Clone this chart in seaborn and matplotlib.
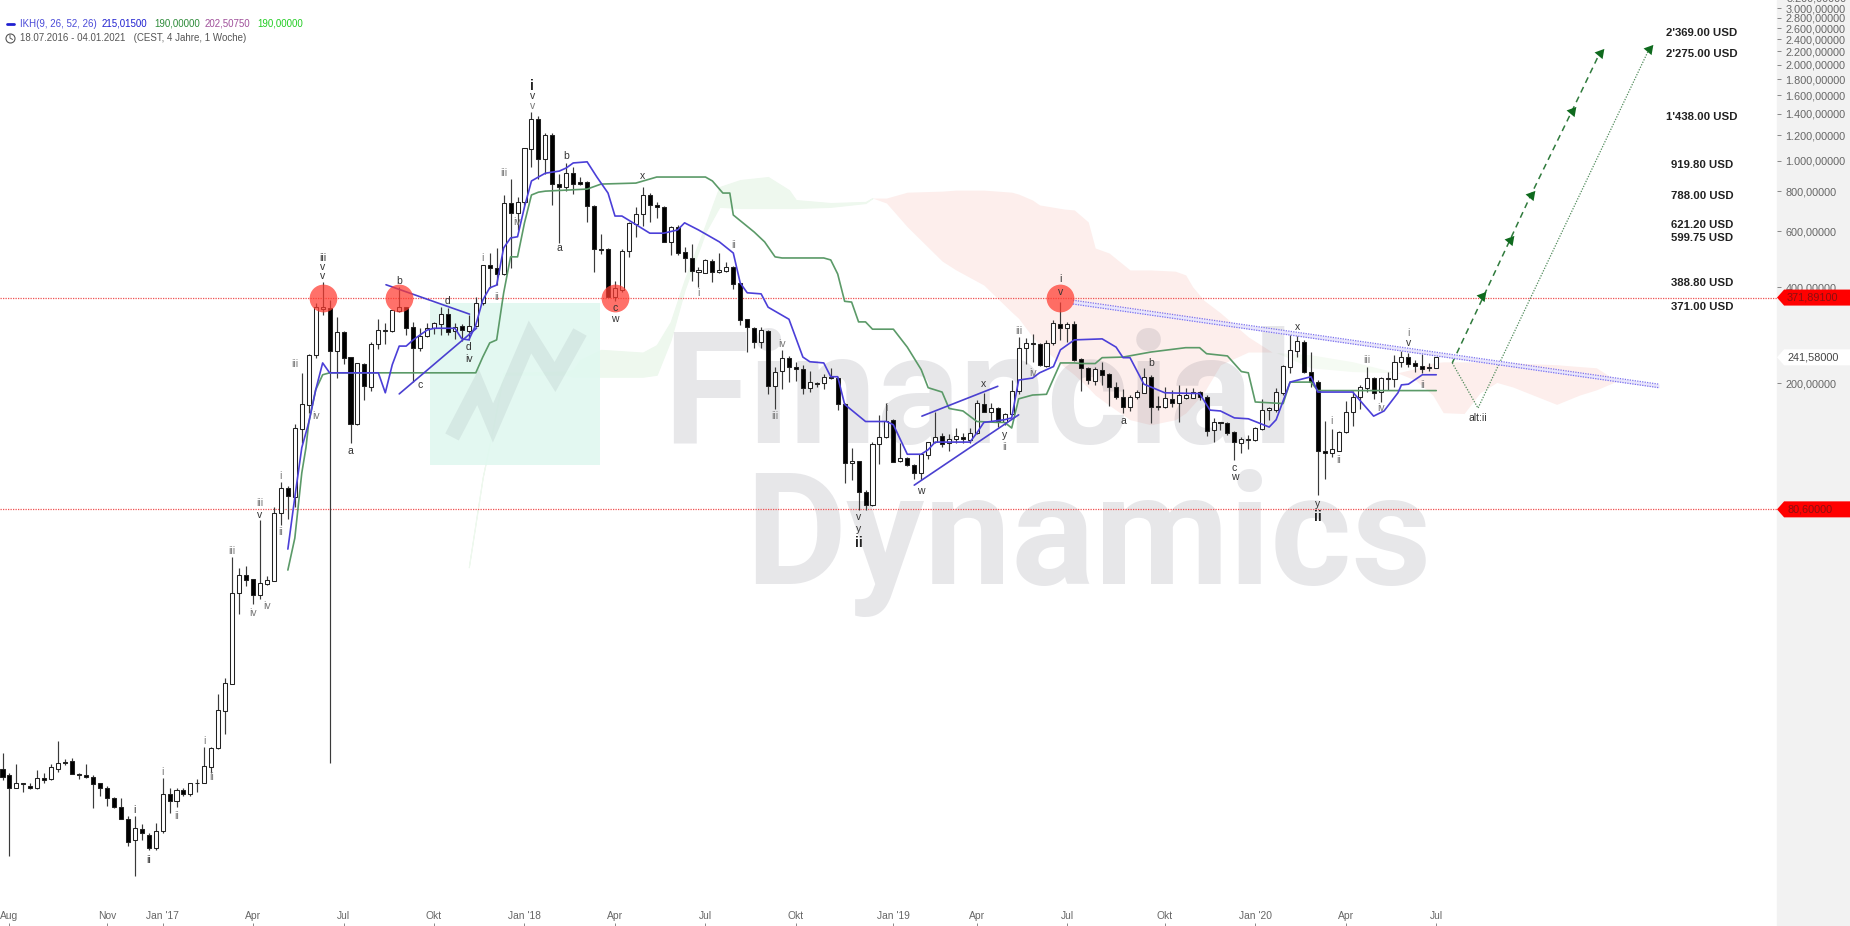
import matplotlib
matplotlib.use("Agg")
import matplotlib.pyplot as plt
import numpy as np
import pandas as pd
import seaborn as sns
from matplotlib.patches import Polygon, Rectangle

# weekly candles, prices in USD
opens = [12.4,11.8,10.8,11.2,10.9,10.8,11.6,11.5,12.4,13.0,
         13.1,11.9,11.8,11.7,11.2,10.8,10.0,9.4,8.6,7.4,
         8.0,7.7,7.0,7.9,10.3,9.8,10.6,10.3,11.2,11.2,
         12.5,14.4,18.8,22.8,44.0,50.2,48.7,43.4,47.0,48,
         78.5,94,88,144,171,246,342.5,345,253,290,
         242,149.6,230.6,195,266,292,292,337.6,347.5,300.6,
         258.6,282,298.4,307,330,292,303,292,303,357.5,
         471,461,441,736,685,742,1087,1351,1011,1203,
         844,826,913,856,856,720,528,528,373,393,
         520,633,680,780,726,716,556,620,517,495,
         448,444,484,448,451,464,413,318,298,270,
         292,196.6,219.4,240.6,226,222.6,194,201,201,210,
         208,172,112.6,114.2,91.4,83.2,129,136,154,114.2,
         116.8,111,104.8,119.5,131.2,137,130.2,134,136,133,
         140,172,162.8,167.4,151.8,160.6,189.6,258.6,268,266,
         227.6,268,307,298.4,307,238.8,224.2,203.6,221,214.6,
         195,182,168.6,181,186.8,210,169.8,168.6,178.4,173.4,
         179.8,179.8,188,182,143,151.8,150.7,141,130.2,133,
         133,144,165,165,186.8,226,253,270,217.8,202,
         122.4,121.3,123,141,162.8,181,194,208,188,208,
         206.4,233.8,242,232,227.6,226,224.2]
closes = [11.7,10.8,11.2,11.1,10.8,11.6,11.4,12.5,12.9,12.9,
          11.9,11.8,11.7,11.1,10.8,10.0,9.4,8.6,7.3,8.1,
          7.8,7.0,7.9,10.3,9.8,10.6,10.3,11.2,11.2,12.6,
          14.4,18.9,23.0,44.0,50.2,48.4,43.4,47.4,48.4,78.5,
          94,88.8,145,172.2,246,347.5,347.5,253,290,240.6,
          149.6,232,196.6,266,294,294,340,347.5,298.4,258.6,
          282,298.4,309,330,290,300.6,294,303,357.5,471,
          461,441,736,685,742,1095,1351,1011,1203,844,
          826,913,844,844,720,528,524,373,399,520,
          638,680,780,726,716,556,620,513,495,451,
          454,488,448,454,464,410,316,300.6,270,294,
          196.6,217.8,240.6,226,222.6,194,202,199.4,210,208,
          172,112.6,114.2,91.4,83.2,129,136,153,113.4,116.8,
          111,104.8,120,131.2,136,129,134,137,134,140,
          173.4,162.8,167.4,152,160.6,189.6,258.6,268,266,229,
          268,309,298.4,307,237,224.2,205,222.6,213,195,
          181,168.6,181,188,210,168.6,168.6,179.8,173.4,184,
          184,188,182,142,151.8,150.7,140,131.2,134,134,
          145.2,165,167.4,188,227.6,255,272,217.8,202,122.4,
          121.3,124.9,141,162.8,181,195,208,186.8,208,206.4,
          233.8,242,230.6,227.6,222.6,224.2,241.58]
highs = [13.9,12.0,12.8,11.2,11.2,12.3,12.0,12.8,15.1,13.3,
         13.4,12.0,12.8,11.8,11.2,10.9,10.1,10.0,8.8,8.8,
         8.3,7.8,8.4,11.6,10.8,10.8,10.8,11.2,11.5,14.5,
         14.5,21.2,23.8,57.1,52.8,53.5,48.7,74.6,49.8,82,
         98.2,95.4,149.6,216.5,247.8,357.5,416,365,323,292,
         242,232,232,270,318.4,309,340,402,347.5,311.6,
         298.4,309,311.6,347.5,345,309,307,328,373,471,
         513,532,780,875,768,1095,1418,1380,1221,1221,
         908,983,955,888,863,726,588,532,419,528,
         642,716,826,791,742,720,624,628,535,548,
         464,491,491,513,481,468,413,318,300.6,300.6,
         294,226,255,244,234,229,219.4,202,214.6,224,
         210,173.4,125.8,114.2,92.7,131.2,159.5,173.4,155,130.2,
         117.7,111.8,121.3,131.2,162.8,140,139,145.2,140,145.2,
         177,186.8,173.4,168.6,161.7,205,280,278,286,268,
         274,316,360,311.6,313.8,240.6,226,226,233.8,216,
         202,192.4,184,191,224,213,182.6,195,191,198,
         193.8,193.8,189.6,184,156.2,151.8,151.8,142,136,138,
         146.3,178.4,168.6,194,229,290,284,274,251,205,
         152.9,144,142,175.8,189.6,198,226,210,210,217.8,
         246,253,249.6,237,247.8,232,242]
lows = [11.4,6.6,10.8,10.5,10.7,10.7,11.2,11.4,12.1,12.7,
        11.9,11.5,11.6,9.3,10.2,9.5,9.3,8.6,7.1,5.7,
        7.4,6.9,6.9,7.8,9.0,9.4,10.2,10.2,10.5,11.2,
        12.0,14.3,15.9,22.8,37.9,46.4,40.8,42.2,46.7,48,
        72,75.2,82,130,161.7,240.6,328,12.9,208,230.6,
        130,148.5,177,189.6,257,266,290,335,284,202,
        253,280,286,284,284,276,272,274,300.6,352.5,
        399,407.5,438,461,606,726,955,875,908,726,
        552,802,785,838,642,448,510,373,362,388,
        499,577,624,642,661,556,506,506,448,419,
        402,444,416,444,448,396,305,251,258.6,258.6,
        185,166,192,202,203.6,185,188,195,192,206.4,
        165,97.6,99.6,80.2,80.2,82.6,111.8,135,113.4,113.4,
        110.2,100.3,99.6,116,130.2,126,122.4,130.2,130.2,130.2,
        139,162.8,153,146.3,148.5,159.5,185.8,230.6,233.8,227.6,
        226,264.5,274,270,235.4,189.6,199.4,198,198,169.8,
        179.4,161.7,163.9,178.4,186.8,150.7,165,167.4,168.6,151.8,
        178.4,179.8,177,137,131.2,143,138,115,121.3,124.9,
        132,143,154,162.8,184,216,242,216,195,89.4,
        100.3,117.7,122.4,140,147.4,166,188,178.4,174.6,191,
        195,226,226,217.8,216,219.4,224.2]

# tenkan line
tenkan_x = [41,42,43,44,45,46,47,54,55,56,57,58,59,60,61,62,65,66,67,68,69,70,71,72,73,74,75,76,77,78,79,80,81,82,84,
            85.4,87,88,89,90.6,93,95,97,98,100,103,105,106,107,109,110,113,115,116,118,119,120,121,124,127,128,130,
            132,133,134,139,140,141,144,145,146,148,149,151,152,154,158,160,161,162,164,165,167,172,173.5,175,177,
            179,182,183,185,188,189,194,197,198.5,200.5,201,202,204,206]
tenkan_y = [60.5,88,125.8,150.7,191,232,216,216,187,229,262,262,274,284,294,298,298,276,274,305,365,399,407,532,572,577,716,863,888,913,920,927,948,983,991,
            888,791,670,670,638,592,592,606,638,606,556,513,413,385,382,347,318,242,234,232,210,210,172,152,152,148.5,120,
            120,124,131,131,140,151,154,156,205,208,216,226,255,274,276,260,241,241,199,195,187,186,165,164,156,
            155,146,154,202,210,188,188,158,164,187,198,199,213,213]
# kijun line
kijun_x = [41,42,43,43.6,44,45,46,47,68,69,70,71,72,73,74,75,76,77,78,84,86,91,94,101,102,103.5,104.5,105,108,109.5,111,112,
           118,119,120,121,122,123,124,125,128,130,132,133,135,136,138,140,143,144,145,146,148,150,152,154,155,157,158,161,
           165,170,172,173,176,178,179,180,184,185,188,189,206]
kijun_y = [52,65.5,104.8,125.8,150.7,191,213,216,216,242,268,274,384,499,499,638,780,796,802,814,844,850,888,888,863,791,791,675,597,556,499,495,
           495,488,441,362,360,312,312,296,296,260,221,194,188,167,164,152,151,151,145,179,184,185,232,232,231,231,241,242,
           251,259,259,248,244,218,216,175,173,202,202,190,190]

# kumo lobes
cloud_up_x = [67,69,70.5,72,81,82,83,86,92,94,96,98,101,103,106,110,113,114,119,124,125]
cloud_up_top = [53.1,101.7,146,216,218,221,237,255,250,264,312,422,628,826,869,888,808,752,736,742,763]
cloud_up_bot = [53.1,101.7,146,213,213,210,210,210,210,213,274,393,597,716,710,710,710,710,716,736,763]
cloud_dn_x = [125,127,130,135,137,141,145,146,148,149,152.5,154,156,157,159,162,165,168.5,170,171,172.6,175,179,182.4,184]
cloud_dn_top = [763,763,796,802,808,808,796,785,752,726,705,700,642,532,513,454,454,450,438,402,365,333,280,251,250]
cloud_dn_bot = [763,736,620,484,454,407,335,320,280,264,226,213,194,184,171,154,148.5,154,161.7,171,187,229,251,251,250]
cloud_up2_x = [183,188,194,200.4]
cloud_up2_top = [250,246,234,216]
cloud_up2_bot = [250,224,218,216]
cloud_dn2_x = [200.4,203,205.5,207,210,212.3,214.7,217,223.3,226.6,229,232]
cloud_dn2_top = [216,222.6,232,233.8,233.8,233.8,233.8,232,229,226,224,203.6]
cloud_dn2_bot = [216,205,184,162,161,187,201.5,195,172,184,191,203.6]

hlines = [371.891, 80.6]
circle_x = [46, 57, 88, 152]
tick_prices = [3000,2800,2600,2400,2200,2000,1800,1600,1400,1200,1000,800,600,400,200]
tick_texts = ["3.000,00000","2.800,00000","2.600,00000","2.400,00000","2.200,00000",
              "2.000,00000","1.800,00000","1.600,00000","1.400,00000","1.200,00000","1.000,00000",
              "800,00000","600,00000","400,00000","200,00000"]
month_x = [1,15,23,36,49,62,75,88,101,114,128,140,153,167,180,193,206]
month_labels = ["Aug","Nov","Jan '17","Apr","Jul","Okt","Jan '18","Apr","Jul","Okt","Jan '19","Apr","Jul","Okt","Jan '20","Apr","Jul"]

target_labels = ["2'369.00 USD","2'275.00 USD","1'438.00 USD","919.80 USD","788.00 USD","621.20 USD","599.75 USD","388.80 USD","371.00 USD"]
target_y = [2512,2165,1370,969,775,628,572,413,347]

# elliott wave counts: text, week, price, style
wave_text = ["i","v","v","iii","v","v","b","d","d","iv","c","a","iii","iv","i","ii","iii","iv","b","a","c","w","x",
             "i","ii","iv","iii","i","v","y","ii","x","w","y","ii","iii","iv","i","v","a","b","x","c","w","i","ii","y","ii",
             "iii","iv","ii","i","v","alt:ii","iii","v","iii","iv","iv","i","ii","i","ii","i","ii","i","ii"]
wave_x = [76.1,76.1,76.1,46,46,46,57,64,67,67,60,50,42,45,69,71,72,74,81,80,88,88,92,
          100,105,112,111,127,123,123,123,141,132,144,144,146,148,152,152,161,165,186,177,177,191,192,189,189,
          196,198,204,202,202,212,37,37,33,36,38,40,40,29,30,23,25,19,21]
wave_y = [1713,1595,1484,495,464,434,419,362,260,239,198,123,230.6,157.6,495,373,913,642,1036,532,345,318,896,
          385,545,266,158,168,76,70,63,199,92,138,126,292,216,425,387,152,232,300,109,102,153,115,84,76,
          237,167,198,288,268,156,84.4,77.3,59.7,38,40,102.4,68.4,15.1,11.7,12.1,8.8,9.2,6.4]
wave_style = ["b","m","s","m","m","m","m","m","m","m","m","m","s","s","s","s","s","s","m","m","m","m","m",
              "s","s","s","s","s","m","m","b","m","m","m","s","s","s","m","m","m","m","m","m","m","s","s","m","b",
              "s","s","s","s","m","m","s","m","s","s","s","s","s","s","s","s","s","m","m"]

assert len(opens) == len(closes) == len(highs) == len(lows) == 207
assert len(wave_text) == len(wave_x) == len(wave_y) == len(wave_style)

sns.set_theme(style="white")
plt.rcParams["font.family"] = ["Liberation Sans", "DejaVu Sans"]

W, H, PANEL = 1850, 926, 1777
fig = plt.figure(figsize=(W / 100, H / 100), dpi=100, facecolor="white")
fig.add_artist(Rectangle((PANEL / W, 0), 1 - PANEL / W, 1, transform=fig.transFigure, color="#f2f2f2", zorder=-1))
ax = fig.add_axes([0, 0, PANEL / W, 1])
ax.patch.set_alpha(0)
ax.set_yscale("log")
sns.despine(ax=ax, left=True, bottom=True)


def fx(px):
    return px / PANEL


def fy(px):
    return 1 - px / H


# clouds and watermark box
green = "#eef8ee"
pink = "#fdeeec"
ax.fill_between(cloud_up_x, cloud_up_bot, cloud_up_top, color=green, lw=0.8, zorder=1)
ax.fill_between(cloud_dn_x, cloud_dn_bot, cloud_dn_top, color=pink, lw=0, zorder=1)
ax.fill_between(cloud_up2_x, cloud_up2_bot, cloud_up2_top, color="#f5fbf3", lw=0, zorder=1)
ax.fill_between(cloud_dn2_x, cloud_dn2_bot, cloud_dn2_top, color=pink, lw=0, zorder=1)
ax.add_patch(Rectangle((fx(430), fy(465)), fx(170), fy(303) - fy(465), transform=ax.transAxes,
                       color="#e0f8f0", alpha=0.9, lw=0, zorder=1.1))
ax.plot([fx(p) for p in (452, 478, 493, 530, 555, 580)], [fy(p) for p in (437, 387, 423, 337, 377, 332)],
        transform=ax.transAxes, color="#3b3b50", alpha=0.08, lw=11, solid_joinstyle="miter",
        solid_capstyle="butt", zorder=1.3)
for word, px, py in (("Financial", 663, 443), ("Dynamics", 745, 584)):
    ax.text(fx(px), fy(py), word, transform=ax.transAxes, family="Roboto", weight="bold", fontsize=112,
            color="#3b3b50", alpha=0.12, ha="left", va="baseline", zorder=1.5)

# horizontal levels
for lvl in hlines:
    ax.axhline(lvl, color="#f05050", lw=0.9, ls=(0, (1, 1)), zorder=2)

# candles
weeks = np.arange(len(opens))
candles = pd.DataFrame({"week": weeks, "open": opens, "close": closes, "high": highs, "low": lows})
candles["top"] = candles[["open", "close"]].max(axis=1)
candles["bot"] = candles[["open", "close"]].min(axis=1)
candles["up"] = candles["close"] >= candles["open"]
ax.vlines(candles["week"], candles["low"], candles["high"], color="#3a3a3a", lw=0.85, zorder=3)
ax.bar(candles["week"], candles["top"] - candles["bot"], bottom=candles["bot"], width=0.58,
       color=["white" if u else "black" for u in candles["up"]], edgecolor="#222222", linewidth=0.75, zorder=4)

# ichimoku lines
sns.lineplot(x=kijun_x, y=kijun_y, ax=ax, color="#5b9a68", lw=1.2, estimator=None, sort=False, zorder=5)
sns.lineplot(x=tenkan_x, y=tenkan_y, ax=ax, color="#4b3fd8", lw=1.2, estimator=None, sort=False, zorder=5.1)

# trend lines
blue = "#4a40d0"
for xs, ys in (([55.1, 67.1], [408, 330]), ([57, 68.1], [185.5, 298]), ([132.1, 143], [158, 196]), ([131, 146], [96, 159.5])):
    ax.plot(xs, ys, color=blue, lw=1.2, zorder=5.2)
ax.fill_between([153.8, 238], [355, 194], [365, 199], color="#e8e5fc", lw=0, zorder=5.1)
for y0, y1 in ((365, 199), (355, 194)):
    ax.plot([153.8, 238], [y0, y1], color="#7a70ee", lw=0.9, ls=(0, (1, 1)), zorder=5.2)

ax.scatter(circle_x, [hlines[0]] * len(circle_x), s=400, color="#ff3b30", alpha=0.72, lw=0, zorder=6)

# projected paths
dark_green = "#0f6a1e"
ax.plot([208.3, 216.6, 219.6, 225.5, 229.5], [232, 564, 780, 1430, 2175], color="#2f7a3c", lw=1.1, ls=(0, (4, 3)), zorder=5)
ax.plot([208.3, 212, 236.6], [232, 167.4, 2240], color="#4f8a5a", lw=0.9, ls=(0, (1, 1.2)), zorder=5)
ax.scatter([212.6, 216.6, 219.6, 225.5, 229.5, 236.6], [376, 564, 780, 1430, 2175, 2240], marker=(3, 0, 80),
           s=75, color=dark_green, lw=0, zorder=6)

# wave labels
styles = {"s": dict(color="#777777", fontsize=7.5), "m": dict(color="#333333", fontsize=7.5),
          "b": dict(color="#222222", fontsize=10, weight="bold")}
for t, x, y, st in zip(wave_text, wave_x, wave_y, wave_style):
    ax.text(x, y, t, ha="center", va="center", zorder=7, **styles[st])

for t, y in zip(target_labels, target_y):
    ax.text(244.2, y, t, ha="center", va="center", fontsize=8.2, weight="bold", color="#222222", zorder=7)

# axes
ax.yaxis.tick_right()
ax.set_yticks(tick_prices)
ax.set_yticklabels(tick_texts)
ax.minorticks_off()
ax.tick_params(axis="y", which="major", right=True, length=3, width=0.7, color="#888888",
               labelsize=7.8, labelcolor="#666666", pad=3, direction="out")
ax.set_xticks(month_x)
ax.set_xticklabels(month_labels)
ax.tick_params(axis="x", bottom=True, length=2, width=0.7, color="#888888", direction="in",
               labelsize=7.4, labelcolor="#666666", pad=-10.5)
# limits last, set_yticks would widen them
ax.set_xlim(-0.36, 254.96)
ax.set_ylim(3.98, 3188)

# price tags
tag_tf = ax.get_yaxis_transform()
ratio = 2 ** (8 / 96)
ax.text(1 + 10 / PANEL, 3220, "3.200,00000", transform=tag_tf, ha="left", va="center", fontsize=7.8,
        color="#666666", clip_on=False)
for val, text, col, txt in ((371.891, "371,89100", "#ff0000", "#8a1010"),
                            (241.58, "241,58000", "white", "#444444"),
                            (80.6, "80,60000", "#ff0000", "#8a1010")):
    pts = [(1, val), (1.004, val * ratio), (1.05, val * ratio), (1.05, val / ratio), (1.004, val / ratio)]
    ax.add_patch(Polygon(pts, closed=True, transform=tag_tf, color=col, lw=0, clip_on=False, zorder=8))
    ax.text(1 + 10 / PANEL, val, text, transform=tag_tf, ha="left", va="center", fontsize=7.8, color=txt,
            clip_on=False, zorder=9)

# header
ax.plot([fx(7), fx(14)], [fy(24), fy(24)], transform=ax.transAxes, color="#2020d0", lw=2, zorder=9)
header = (("IKH(9, 26, 52, 26)", 20, "#4a4ad8"), ("215,01500", 102, "#2020d0"), ("190,00000", 154, "#2e8b3a"),
          ("202,50750", 205, "#a0509a"), ("190,00000", 257, "#22cc22"))
for t, px, col in header:
    ax.text(fx(px), fy(24), t, transform=ax.transAxes, fontsize=7, color=col, va="center", zorder=9)
ax.text(fx(20), fy(38), "18.07.2016 - 04.01.2021   (CEST, 4 Jahre, 1 Woche)", transform=ax.transAxes,
        fontsize=7, color="#555555", va="center", zorder=9)
ax.plot([fx(10)], [fy(38)], "o", ms=6.5, mfc="white", mec="#555555", mew=0.8, transform=ax.transAxes, zorder=9)
ax.plot([fx(10), fx(10), fx(12.5)], [fy(35), fy(38), fy(39.5)], color="#555555", lw=0.7, transform=ax.transAxes, zorder=10)

fig.savefig("out.png", dpi=100)
plt.close(fig)
